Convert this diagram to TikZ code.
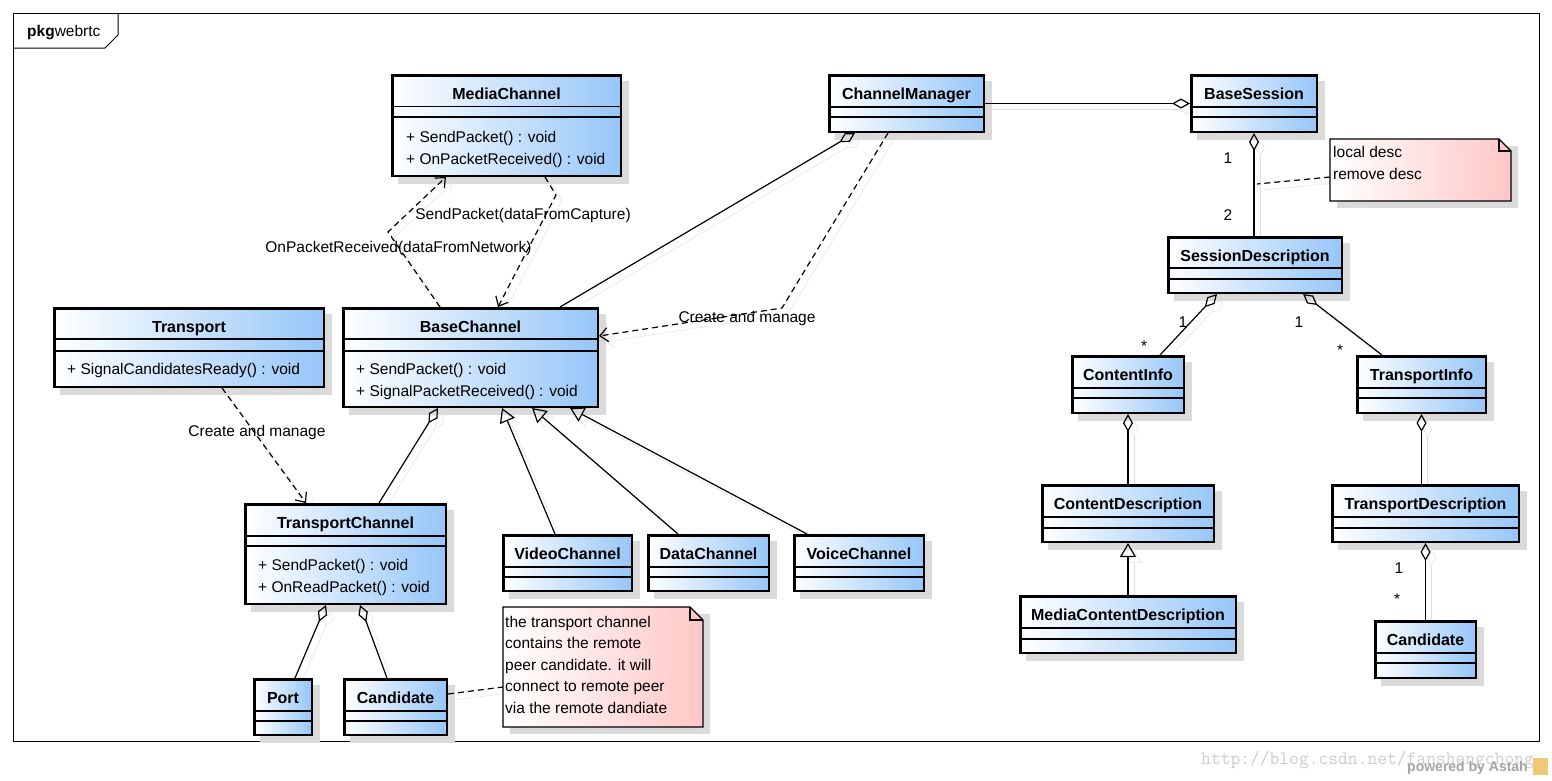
\documentclass[tikz,border=0pt]{standalone}
\usepackage{fontspec}
\setmainfont{Liberation Sans}
\usetikzlibrary{arrows.meta,calc}
\pgfdeclarelayer{bg}
\pgfdeclarelayer{conn}
\pgfsetlayers{bg,conn,main}
\definecolor{clsblue}{RGB}{150,198,248}
\definecolor{notepink}{RGB}{255,198,198}
\definecolor{boxshd}{RGB}{218,218,218}
\definecolor{lineshd}{RGB}{222,222,222}
\definecolor{wmgray}{RGB}{205,205,205}
\definecolor{pwgray}{RGB}{165,165,165}
\definecolor{astahor}{RGB}{240,200,120}
\tikzset{
  clsbox/.style={draw, line width=2.5pt, left color=white, right color=clsblue, inner sep=0pt},
  divline/.style={line width=1.1pt},
  clstitle/.style={font=\fontsize{16}{19}\selectfont\bfseries, anchor=base, inner sep=0pt},
  member/.style={font=\fontsize{15.5}{18}\selectfont, anchor=base west, inner sep=0pt},
  lbl/.style={font=\fontsize{15.5}{18}\selectfont, inner sep=0pt},
  mult/.style={font=\fontsize{15.5}{18}\selectfont, anchor=base, inner sep=0pt},
  notebox/.style={draw, line width=1.1pt, left color=white, right color=notepink},
  notetext/.style={font=\fontsize{15.5}{18}\selectfont, anchor=base west, inner sep=0pt},
  conn/.style={draw, line width=1.2pt, preaction={draw=lineshd, solid, transform canvas={shift={(6pt,-6pt)}}}},
  aggE/.style={-{Diamond[open,length=18pt,width=10pt]}},
  aggS/.style={{Diamond[open,length=18pt,width=10pt]}-},
  genE/.style={-{Triangle[open,length=14pt,width=16pt]}},
  depE/.style={dash pattern=on 6pt off 4pt, -{Straight Barb[length=8pt,width=14pt]}},
  dashl/.style={dash pattern=on 6pt off 4pt},
}
% name x1 y1 x2 y2 d1 d2 title
\newcommand\umlcls[8]{%
  \begin{pgfonlayer}{bg}
    \fill[boxshd] (#2+7,#3+7) rectangle (#4+7,#5+7);
  \end{pgfonlayer}
  \node[clsbox, anchor=north west, minimum width={#4-#2-2.5}, minimum height={#5-#3-2.5}] (#1) at (#2,#3) {};
  \draw[divline] (#2+1,#6) -- (#4-1,#6);
  \draw[divline] (#2+1,#7) -- (#4-1,#7);
  \node[clstitle] at ({(#2+#4)/2},#3+25) {#8};
}
% name x1 y1 x2 y2 fold
\newcommand\umlnote[6]{%
  \begin{pgfonlayer}{bg}
    \fill[boxshd] (#2+7,#3+7) rectangle (#4+7,#5+7);
  \end{pgfonlayer}
  \node[inner sep=0pt, outer sep=0pt, anchor=north west, minimum width={#4-#2}, minimum height={#5-#3}] (#1) at (#2,#3) {};
  \draw[notebox] (#2,#3) -- (#4-#6,#3) -- (#4,#3+#6) -- (#4,#5) -- (#2,#5) -- cycle;
  \draw[line width=1.1pt] (#4-#6,#3) -- (#4-#6,#3+#6) -- (#4,#3+#6);
}
\begin{document}
\begin{tikzpicture}[x=1pt,y=-1pt]
\useasboundingbox (0,0) rectangle (1552,780);
\begin{pgfonlayer}{bg}
  \fill[white] (0,0) rectangle (1552,780);
  \draw[line width=1pt] (13,13) rectangle (1539,741);
  \draw[line width=1pt] (13,48) -- (105,48) -- (118,35) -- (118,13);
\end{pgfonlayer}
\node[anchor=base west, inner sep=0pt, font=\fontsize{15.5}{18}\selectfont] (pkg) at (27,36) {\textbf{pkg}webrtc};

% classes
\umlcls{mc}{391}{74}{622}{177}{106.5}{117}{MediaChannel}
\umlcls{cm}{828}{74}{985}{133}{107}{117}{ChannelManager}
\umlcls{bs}{1190}{74}{1318}{133}{107}{117}{BaseSession}
\umlcls{sd}{1167}{236}{1343}{294}{268}{279}{SessionDescription}
\umlcls{ci}{1071}{355}{1185}{414}{388}{398}{ContentInfo}
\umlcls{ti}{1356}{355}{1487}{414}{388}{398}{TransportInfo}
\umlcls{cd}{1041}{484}{1215}{543}{517}{528}{ContentDescription}
\umlcls{mcd}{1019}{595}{1237}{654}{628}{639}{MediaContentDescription}
\umlcls{td}{1331}{484}{1520}{543}{517}{528}{TransportDescription}
\umlcls{candb}{1374}{620}{1477}{679}{653}{663}{Candidate}
\umlcls{tr}{53}{307}{325}{388}{339}{351}{Transport}
\umlcls{bc}{342}{307}{599}{408}{339}{351}{BaseChannel}
\umlcls{tc}{244}{503}{447}{605}{536}{546}{TransportChannel}
\umlcls{port}{253}{678}{313}{736}{711}{721}{Port}
\umlcls{canda}{343}{678}{448}{736}{711}{721}{Candidate}
\umlcls{vc}{502}{534}{633}{592}{567}{577}{VideoChannel}
\umlcls{dc}{647}{534}{770}{592}{567}{577}{DataChannel}
\umlcls{voc}{793}{534}{925}{592}{567}{577}{VoiceChannel}

% members
\node[member] at (406,142) {+ SendPacket() : void};
\node[member] at (406,164) {+ OnPacketReceived() : void};
\node[member] at (356,374) {+ SendPacket() : void};
\node[member] at (356,396) {+ SignalPacketReceived() : void};
\node[member] at (67,374) {+ SignalCandidatesReady() : void};
\node[member] at (258,570) {+ SendPacket() : void};
\node[member] at (258,592) {+ OnReadPacket() : void};

% notes
\umlnote{note1}{503}{607}{703}{727}{13}
\node[notetext] at (505,627) {the transport channel};
\node[notetext] at (505,648.5) {contains the remote};
\node[notetext] at (505,670) {peer candidate. it will};
\node[notetext] at (505,691.5) {connect to remote peer};
\node[notetext] at (505,713) {via the remote dandiate};
\umlnote{note2}{1330}{139}{1511}{201}{12}
\node[notetext] at (1333,157) {local desc};
\node[notetext] at (1333,179) {remove desc};

% connectors
\begin{pgfonlayer}{conn}
\draw[conn, aggE] (cm.east) -- (bs.west);
\draw[conn, aggS] (bs.south) -- (bs.south |- sd.north);
\draw[conn, aggS] ($(sd.south west)+(50,0)$) -- ($(ci.north west)+(89,0)$);
\draw[conn, aggS] ($(sd.south west)+(136,0)$) -- ($(ti.north west)+(26,0)$);
\draw[conn, aggS] (ci.south) -- (ci.south |- cd.north);
\draw[conn, genE] (mcd.north) -- (mcd.north |- cd.south);
\draw[conn, aggS] (ti.south) -- (ti.south |- td.north);
\draw[conn, aggS] (td.south) -- (td.south |- candb.north);
\draw[conn, aggS] ($(cm.south west)+(27,0)$) -- ($(bc.north west)+(218,0)$);
\coordinate (k1) at (782,308);
\draw[conn, depE] ($(cm.south west)+(60,0)$) -- (k1) -- ($(bc.north east)+(0,29)$);
\coordinate (k2) at (388,232);
\draw[conn, depE] ($(bc.north west)+(98,0)$) -- (k2) -- ($(mc.south west)+(55,0)$);
\coordinate (k3) at (556,195);
\draw[conn, depE] ($(mc.south west)+(154,0)$) -- (k3) -- ($(bc.north west)+(156,0)$);
\draw[conn, aggS] ($(bc.south west)+(96,0)$) -- ($(tc.north west)+(135,0)$);
\draw[conn, depE] ($(tr.south west)+(169,0)$) -- ($(tc.north west)+(62,0)$);
\draw[conn, genE] ($(vc.north west)+(53,0)$) -- ($(bc.south west)+(160,0)$);
\draw[conn, genE] ($(dc.north west)+(31,0)$) -- ($(bc.south west)+(190,0)$);
\draw[conn, genE] ($(voc.north west)+(14,0)$) -- ($(bc.south west)+(228,0)$);
\draw[conn, aggS] ($(tc.south west)+(82,0)$) -- ($(port.north west)+(42,0)$);
\draw[conn, aggS] ($(tc.south west)+(116,0)$) -- ($(canda.north west)+(44,0)$);
\draw[conn, dashl] ($(canda.north east)+(0,16)$) -- ($(note1.west)+(0,20)$);
\coordinate (k4) at (1257,184);
\draw[conn, dashl] ($(note2.west)+(0,7)$) -- (k4);
\end{pgfonlayer}

% connector labels
\node[lbl] (l1) at (523,215) {SendPacket(dataFromCapture)};
\node[lbl] (l2) at (398.5,248) {OnPacketReceived(dataFromNetwork)};
\node[lbl] (l3) at (747,318) {Create and manage};
\node[lbl] (l4) at (257,432) {Create and manage};
\node[mult] (m1) at (1228,163.5) {1};
\node[mult] (m2) at (1228,220.5) {2};
\node[mult] (m3) at (1183,327) {1};
\node[mult] (m4) at (1144,351) {*};
\node[mult] (m5) at (1299,327) {1};
\node[mult] (m6) at (1340,355) {*};
\node[mult] (m7) at (1399,573.5) {1};
\node[mult] (m8) at (1397,604) {*};

% watermark
\node[anchor=base west, inner sep=0pt, text=wmgray, font=\ttfamily\fontsize{19}{20}\selectfont] (wm) at (1201,764) {http://blog.csdn.net/fanshengchong};
\node[anchor=base west, inner sep=0pt, text=pwgray, font=\fontsize{14}{16}\selectfont\bfseries] (pw) at (1407,771) {powered by Astah};
\fill[astahor] (1533,758) rectangle (1548,775);
\end{tikzpicture}
\end{document}
